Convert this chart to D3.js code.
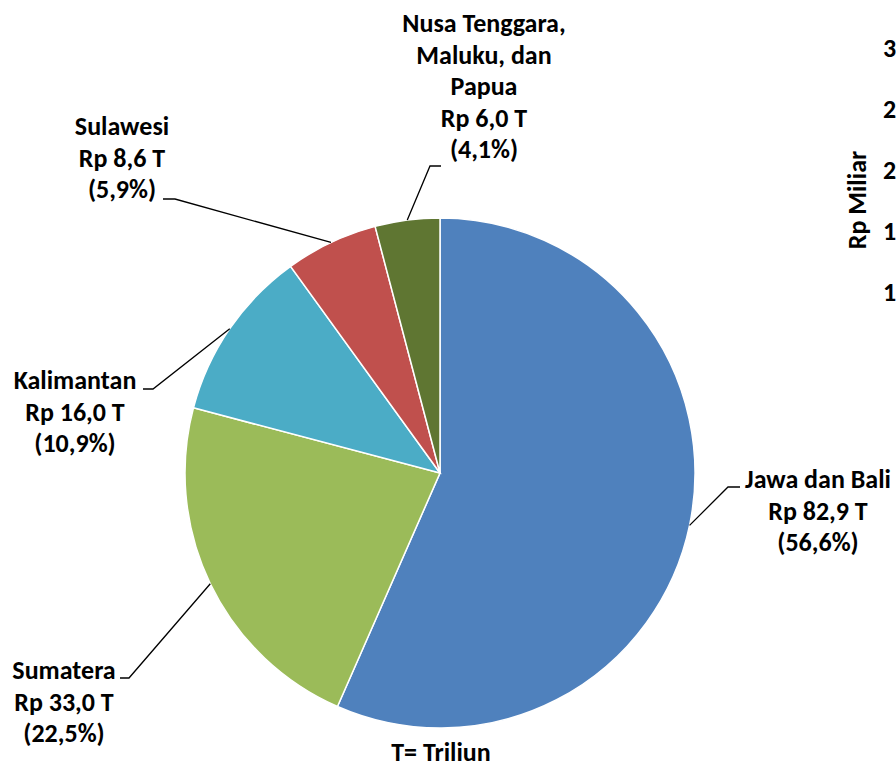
<!DOCTYPE html>
<meta charset="utf-8">
<script src="https://cdn.jsdelivr.net/npm/d3@7/dist/d3.min.js"></script>
<style>
 body { margin: 0; background: #fff; }
 svg text { font-family: Carlito, Calibri, Lato, sans-serif; font-weight: 700; fill: #000; }
</style>
<div id="container"></div>
<script>
 var width = 896, height = 767;

 // data
 var regions = ["Jawa dan Bali", "Sumatera", "Kalimantan", "Sulawesi", "Nusa Tenggara, Maluku, dan Papua"];
 var values = [82.9, 33.0, 16.0, 8.6, 6.0];          // Rp triliun
 var shares = [56.6, 22.5, 10.9, 5.9, 4.1];          // percent
 var colors = ["#4F81BD", "#9BBB59", "#4BACC6", "#C0504D", "#5F7632"];
 var nameLines = [["Jawa dan Bali"], ["Sumatera"], ["Kalimantan"], ["Sulawesi"], ["Nusa Tenggara,", "Maluku, dan", "Papua"]];
 var footnote = "T= Triliun";

 // clipped neighbour chart on the right edge (only the first digit is visible)
 var axisTicks = [300, 250, 200, 150, 100];
 var axisTitle = "Rp Miliar";

 // label layout: text centre, first baseline, leader elbow and end
 var labelPos = [
     {x: 818, y: 488, elbow: [728, 487], end: [740, 487]},
     {x: 64,  y: 679, elbow: [129, 678], end: [120, 678]},
     {x: 75,  y: 389, elbow: [153, 389], end: [143, 389]},
     {x: 122, y: 135, elbow: [175, 199], end: [163, 199]},
     {x: 484, y: 32,  elbow: [430, 166], end: [441, 166]}
 ];
 var lineSpace = 31.5;
 var fontSize = 26;

 var cx = 440, cy = 473, radius = 255;

 var svg = d3.select("#container")
             .append("svg")
             .attr("width", width)
             .attr("height", height);

 var pie = d3.pie().sort(null).value(d => d);
 var arcs = pie(values);
 var arc = d3.arc().innerRadius(0).outerRadius(radius);

 var g = svg.append("g").attr("transform", `translate(${cx},${cy})`);

 g.selectAll("path.slice")
  .data(arcs)
  .enter()
  .append("path")
  .attr("class", "slice")
  .attr("d", arc)
  .attr("fill", (d, i) => colors[i])
  .attr("stroke", "#fff")
  .attr("stroke-width", 1.5);

 function fmt(v) { return v.toFixed(1).replace(".", ","); }

 // leader lines from the slice edge at its mid angle
 arcs.forEach(function(d, i) {
     var a = (d.startAngle + d.endAngle) / 2;
     var p0 = [cx + radius * Math.sin(a), cy - radius * Math.cos(a)];
     var lp = labelPos[i];
     svg.append("polyline")
        .attr("points", [p0, lp.elbow, lp.end].map(p => p.join(",")).join(" "))
        .attr("fill", "none")
        .attr("stroke", "#000")
        .attr("stroke-width", 1.3);

     var lines = nameLines[i].concat([`Rp ${fmt(values[i])} T`, `(${fmt(shares[i])}%)`]);
     var t = svg.append("text")
                .attr("text-anchor", "middle")
                .style("font-size", fontSize + "px");
     lines.forEach(function(s, k) {
         t.append("tspan")
          .attr("x", lp.x)
          .attr("y", lp.y + k * lineSpace)
          .text(s);
     });
 });

 svg.append("text")
    .attr("x", 441)
    .attr("y", 761)
    .attr("text-anchor", "middle")
    .style("font-size", fontSize + "px")
    .text(footnote);

 // partial axis of the next chart, cut by the page edge
 var yAxis = d3.scaleLinear().domain([100, 300]).range([294, 50]);
 svg.selectAll("text.tick")
    .data(axisTicks)
    .enter()
    .append("text")
    .attr("class", "tick")
    .attr("x", 883)
    .attr("y", d => yAxis(d) + 7)
    .style("font-size", fontSize + "px")
    .text(d => String(d).charAt(0));

 svg.append("text")
    .attr("transform", "translate(866,200) rotate(-90)")
    .attr("text-anchor", "middle")
    .style("font-size", fontSize + "px")
    .text(axisTitle);
</script>
